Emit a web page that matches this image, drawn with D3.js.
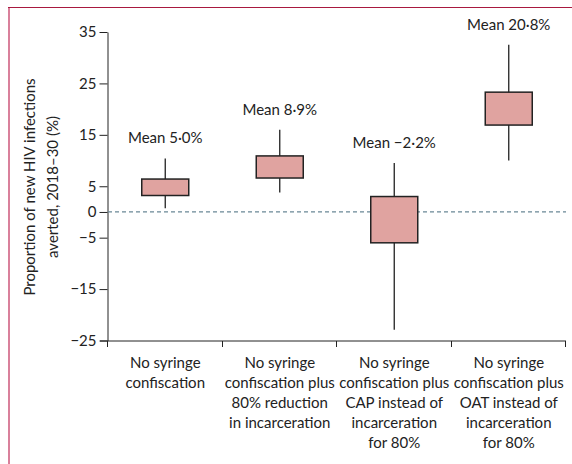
<!DOCTYPE html>
<html>
<head>
<meta charset="utf-8">
<script src="https://cdn.jsdelivr.net/npm/d3@7"></script>
<style>
	body { margin: 0; background: #fff; }
	text { font-family: Lato, "Noto Sans", sans-serif; fill: #222; }
</style>
</head>
<body>
<svg width="572" height="464"></svg>
<script>
// scenario labels, one line per array entry
var categories = [
	["No syringe", "confiscation"],
	["No syringe", "confiscation plus", "80% reduction", "in incarceration"],
	["No syringe", "confiscation plus", "CAP instead of", "incarceration", "for 80%"],
	["No syringe", "confiscation plus", "OAT instead of", "incarceration", "for 80%"]
];
var means = ["Mean 5·0%", "Mean 8·9%", "Mean \u22122·2%", "Mean 20·8%"];
var whisker_low = [0.7, 3.8, -22.9, 10.0];
var box_low = [3.2, 6.6, -6.0, 16.9];
var box_high = [6.4, 10.9, 3.0, 23.3];
var whisker_high = [10.4, 16.0, 9.5, 32.5];
var y_ticks = [35, 25, 15, 5, 0, -5, -15, -25];

var svg = d3.select("svg");

// panel frame
svg.append("line")
	.attr("x1", 9).attr("y1", 7).attr("x2", 9).attr("y2", 464)
	.style("stroke", "#d9809b").style("stroke-width", 2);
svg.append("line")
	.attr("x1", 8).attr("y1", 7.5).attr("x2", 572).attr("y2", 7.5)
	.style("stroke", "#a8193f").style("stroke-width", 1);

var x = d3.scaleBand()
	.domain(d3.range(categories.length))
	.range([108, 566]);

var y = d3.scaleLinear()
	.domain([-25, 35])
	.range([340.5, 32]);

var fmt = function(d) { return d < 0 ? "\u2212" + Math.abs(d) : d; };

var yAxis = svg.append("g")
	.attr("transform", "translate(107.5,0)")
	.call(d3.axisLeft(y).tickValues(y_ticks).tickSize(8).tickSizeOuter(0).tickPadding(3).tickFormat(fmt));
yAxis.selectAll("text").style("font-size", "15px").style("font-family", "Lato, sans-serif").attr("fill", "#222");
yAxis.selectAll("line, path").attr("stroke", "#222");

// x axis with ticks at category boundaries
var xg = svg.append("g").attr("transform", "translate(0," + (y(-25) + 0.5) + ")");
xg.append("line")
	.attr("x1", 100).attr("x2", x.range()[1])
	.attr("stroke", "#222");
var bounds = d3.range(categories.length + 1).map(function(i) { return i < categories.length ? x(i) : x.range()[1]; });
xg.selectAll(".bt")
	.data(bounds)
	.enter()
	.append("line")
	.attr("x1", function(d) { return Math.round(d) - 0.5; })
	.attr("x2", function(d) { return Math.round(d) - 0.5; })
	.attr("y1", 0).attr("y2", 6)
	.attr("stroke", "#222");

var labels = xg.selectAll(".cat")
	.data(categories)
	.enter()
	.append("text")
	.attr("class", "cat")
	.attr("text-anchor", "middle")
	.style("font-size", "15px")
	.attr("transform", function(d, i) { return "translate(" + (x(i) + x.bandwidth() / 2) + ",27)"; });
labels.selectAll("tspan")
	.data(function(d) { return d; })
	.enter()
	.append("tspan")
	.attr("x", 0)
	.attr("y", function(d, i) { return i * 20; })
	.text(function(d) { return d; });

// zero reference line
svg.append("line")
	.attr("x1", 108).attr("x2", 566)
	.attr("y1", y(0)).attr("y2", y(0))
	.attr("stroke", "#6a8896")
	.attr("stroke-width", 1.2)
	.attr("stroke-dasharray", "4,3");

var boxW = 47;
var groups = svg.selectAll(".box")
	.data(categories)
	.enter()
	.append("g")
	.attr("class", "box");

groups.append("line")
	.attr("x1", function(d, i) { return x(i) + x.bandwidth() / 2; })
	.attr("x2", function(d, i) { return x(i) + x.bandwidth() / 2; })
	.attr("y1", function(d, i) { return y(whisker_high[i]); })
	.attr("y2", function(d, i) { return y(whisker_low[i]); })
	.attr("stroke", "#222")
	.attr("stroke-width", 1.3);

groups.append("rect")
	.attr("x", function(d, i) { return x(i) + x.bandwidth() / 2 - boxW / 2; })
	.attr("width", boxW)
	.attr("y", function(d, i) { return y(box_high[i]); })
	.attr("height", function(d, i) { return y(box_low[i]) - y(box_high[i]); })
	.attr("fill", "#e0a3a0")
	.attr("stroke", "#222")
	.attr("stroke-width", 1.5);

groups.append("text")
	.attr("x", function(d, i) { return x(i) + x.bandwidth() / 2; })
	.attr("y", function(d, i) { return y(whisker_high[i]) - 15; })
	.attr("text-anchor", "middle")
	.style("font-size", "15px")
	.text(function(d, i) { return means[i]; });

// y axis title
var title = svg.append("text")
	.attr("transform", "translate(30,187) rotate(-90)")
	.attr("text-anchor", "middle")
	.style("font-size", "15px");
title.append("tspan").attr("x", 0).attr("y", 5).text("Proportion of new HIV infections");
title.append("tspan").attr("x", 0).attr("y", 27.5).text("averted, 2018\u201330 (%)");
</script>
</body>
</html>
